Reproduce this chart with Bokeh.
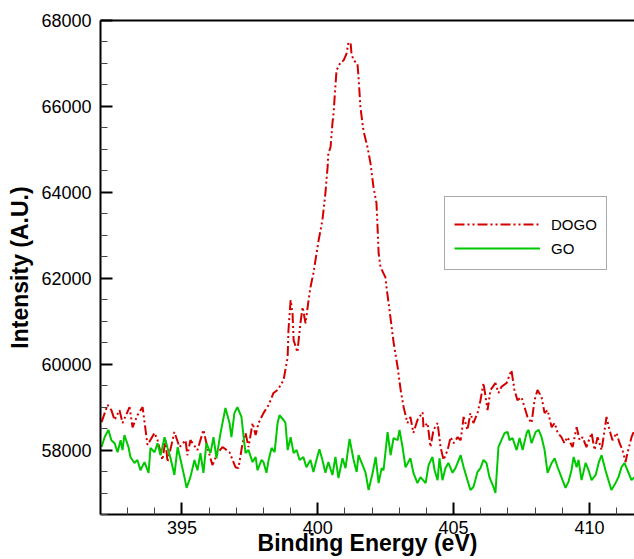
from bokeh.plotting import figure
from bokeh.models import (Range1d, FixedTicker, LinearAxis, Legend, LegendItem,
                          BasicTickFormatter)
from bokeh.embed import file_html
from bokeh.resources import INLINE

# ---- data ----
dogo_energy = [392.04, 392.26, 392.40, 392.52, 392.70, 392.81, 393.07, 393.18, 393.36, 393.55,
               393.73, 393.99, 394.10, 394.28, 394.39, 394.47, 394.72, 394.91, 395.13, 395.20,
               395.31, 395.57, 395.79, 395.94, 396.12, 396.31, 396.49, 396.75, 396.97, 397.08,
               397.23, 397.34, 397.45, 397.60, 397.71, 397.82, 398.00, 398.19, 398.37, 398.52,
               398.63, 398.74, 398.89, 398.92, 399.00, 399.07, 399.11, 399.25, 399.36, 399.44,
               399.55, 399.66, 399.73, 399.84, 400.03, 400.17, 400.28, 400.36, 400.39, 400.47,
               400.54, 400.58, 400.62, 400.69, 400.84, 400.95, 401.06, 401.13, 401.21, 401.24,
               401.32, 401.46, 401.50, 401.57, 401.68, 401.83, 401.94, 402.05, 402.16, 402.20,
               402.24, 402.31, 402.49, 402.53, 402.64, 402.79, 402.94, 403.05, 403.16, 403.30,
               403.41, 403.52, 403.67, 403.86, 403.89, 404.04, 404.15, 404.26, 404.41, 404.52,
               404.63, 404.78, 404.89, 405.00, 405.15, 405.26, 405.37, 405.51, 405.62, 405.73,
               405.88, 405.99, 406.10, 406.25, 406.36, 406.54, 406.65, 406.76, 406.95, 407.13,
               407.24, 407.35, 407.50, 407.61, 407.72, 407.87, 407.98, 408.09, 408.24, 408.35,
               408.46, 408.61, 408.72, 408.83, 408.97, 409.08, 409.19, 409.38, 409.53, 409.64,
               409.75, 409.89, 410.08, 410.19, 410.30, 410.45, 410.63, 410.74, 410.85, 411.00,
               411.11, 411.22, 411.33, 411.40, 411.55, 411.66]
dogo_intensity = [58650, 59050, 58930, 58700, 58930, 58630, 59000, 58530, 58810, 59000,
                  58120, 58400, 58230, 57770, 58230, 57720, 58420, 58070, 58230, 57880,
                  58230, 58000, 58470, 58050, 57650, 57930, 58070, 57950, 57600, 57580,
                  58160, 58400, 58070, 58630, 58350, 58630, 58860, 59050, 59330, 59400,
                  59510, 59630, 60160, 60790, 61490, 61190, 60560, 60280, 60950, 61330,
                  60950, 61490, 61790, 62120, 62880, 63350, 63980, 64580, 64910, 65050,
                  65610, 65840, 66210, 66840, 67030, 67070, 67230, 67490, 67470, 67230,
                  67070, 67000, 66680, 65980, 65440, 65050, 64680, 64120, 63750, 63190,
                  62580, 62260, 62020, 61790, 61260, 60510, 59930, 59400, 59000, 58630,
                  58770, 58400, 58700, 58880, 58530, 58630, 58070, 58470, 58630, 58070,
                  57770, 58000, 58300, 58160, 58300, 58230, 58770, 58470, 58860, 58630,
                  58860, 59160, 59560, 58930, 59400, 59560, 59330, 59470, 59560, 59860,
                  59400, 59160, 59230, 59000, 58770, 58630, 59160, 59400, 59230, 58860,
                  58930, 58530, 58630, 58400, 58300, 58160, 58300, 58070, 58530, 58230,
                  58300, 58070, 58400, 58000, 58300, 58000, 58770, 58470, 58230, 58400,
                  58160, 58000, 57720, 57930, 58300, 58470]

go_energy = [392.04, 392.15, 392.29, 392.40, 392.52, 392.63, 392.74, 392.81, 392.88, 393.03,
             393.10, 393.25, 393.36, 393.47, 393.62, 393.77, 393.84, 393.99, 394.10, 394.21,
             394.36, 394.47, 394.58, 394.72, 394.84, 394.95, 395.09, 395.17, 395.31, 395.46,
             395.57, 395.68, 395.79, 395.90, 396.05, 396.16, 396.27, 396.42, 396.60, 396.75,
             396.82, 396.93, 397.04, 397.19, 397.27, 397.34, 397.45, 397.60, 397.71, 397.78,
             397.93, 398.00, 398.11, 398.19, 398.30, 398.41, 398.52, 398.59, 398.74, 398.81,
             398.89, 399.00, 399.11, 399.22, 399.33, 399.47, 399.58, 399.73, 399.84, 399.95,
             400.06, 400.17, 400.28, 400.39, 400.54, 400.65, 400.76, 400.91, 401.02, 401.17,
             401.32, 401.43, 401.50, 401.65, 401.76, 401.87, 402.02, 402.13, 402.24, 402.35,
             402.42, 402.57, 402.68, 402.79, 402.94, 403.01, 403.12, 403.23, 403.41, 403.52,
             403.67, 403.78, 403.97, 404.08, 404.22, 404.30, 404.41, 404.48, 404.59, 404.70,
             404.81, 404.96, 405.07, 405.26, 405.37, 405.51, 405.62, 405.73, 405.88, 405.99,
             406.10, 406.21, 406.32, 406.47, 406.54, 406.62, 406.65, 406.76, 406.88, 406.99,
             407.06, 407.17, 407.32, 407.43, 407.54, 407.69, 407.76, 407.87, 408.02, 408.13,
             408.24, 408.35, 408.46, 408.61, 408.72, 408.83, 408.97, 409.12, 409.23, 409.34,
             409.42, 409.53, 409.60, 409.71, 409.86, 409.97, 410.08, 410.23, 410.34, 410.45,
             410.59, 410.70, 410.81, 410.96, 411.07, 411.18, 411.29, 411.40, 411.55, 411.66]
go_intensity = [58070, 58300, 58470, 58230, 58160, 57950, 58230, 58000, 58350, 58070,
                57840, 57700, 57770, 57530, 57720, 57470, 58050, 57950, 58160, 57880,
                58300, 58050, 57810, 57420, 58070, 57770, 57370, 57120, 57370, 57770,
                57530, 57930, 57470, 58160, 57930, 58300, 57810, 58400, 58980, 58630,
                58300, 58860, 59000, 58770, 58300, 57930, 58000, 57720, 57840, 57530,
                57770, 57720, 57470, 57770, 58050, 57950, 58630, 58810, 58700, 58630,
                58000, 58300, 57930, 58000, 57770, 57840, 57600, 57770, 57490, 57770,
                58020, 57770, 57470, 57720, 57420, 57840, 57350, 57810, 57580, 58260,
                57770, 57490, 57880, 57650, 57470, 57070, 57470, 57840, 57230, 57580,
                57530, 58420, 57880, 58280, 58230, 58470, 58070, 57600, 57810, 57470,
                57230, 57370, 57230, 57650, 57840, 57530, 57300, 57810, 57300, 57580,
                57700, 57470, 57580, 57880, 57600, 57300, 57070, 57140, 57490, 57580,
                57770, 57700, 57370, 57140, 57000, 57770, 58070, 58230, 58400, 58420,
                58230, 58280, 58000, 58280, 58000, 58400, 58470, 58160, 58420, 58470,
                58300, 58000, 57470, 57700, 57810, 57600, 57370, 57120, 57260, 57530,
                57840, 57600, 57770, 57300, 57700, 57530, 57300, 57420, 57700, 57880,
                57530, 57300, 57070, 57230, 57370, 57600, 57700, 57530, 57300, 57370]

x_ticks = [395, 400, 405, 410]
x_minor_ticks = [392, 393, 394, 396, 397, 398, 399, 401, 402, 403, 404, 406, 407, 408, 409, 411]
y_ticks = [58000, 60000, 62000, 64000, 66000, 68000]
y_minor_ticks = [56500, 57000, 57500, 58500, 59000, 59500, 60500, 61000, 61500, 62500,
                 63000, 63500, 64500, 65000, 65500, 66500, 67000, 67500]
x_start, x_end = 392.0, 411.66
y_start, y_end = 56500, 68000
x_title = "Binding Energy (eV)"
y_title = "Intensity (A.U.)"

FONT = "Liberation Sans"

p = figure(width=634, height=559, output_backend="svg", toolbar_location=None,
           x_range=Range1d(x_start, x_end), y_range=Range1d(y_start, y_end),
           min_border_left=100, min_border_right=0, min_border_top=20, min_border_bottom=45)
p.outline_line_color = None
p.xgrid.visible = False
p.ygrid.visible = False
p.background_fill_color = "white"
p.border_fill_color = "white"

r_dogo = p.line(dogo_energy, dogo_intensity, line_color="#d40000", line_width=2,
                line_dash="10 3 2 3 2 3")
r_go = p.line(go_energy, go_intensity, line_color="#00c800", line_width=2)

for ax, ticks, minors in ((p.xaxis[0], x_ticks, x_minor_ticks), (p.yaxis[0], y_ticks, y_minor_ticks)):
    ax.ticker = FixedTicker(ticks=ticks, minor_ticks=minors)
    ax.formatter = BasicTickFormatter(use_scientific=False)
    ax.axis_line_width = 2
    ax.axis_line_color = "black"
    ax.major_tick_in = 12
    ax.major_tick_out = 0
    ax.major_tick_line_width = 2
    ax.major_tick_line_color = "black"
    ax.minor_tick_in = 7
    ax.minor_tick_out = 0
    ax.minor_tick_line_width = 1
    ax.minor_tick_line_color = "#444444"
    ax.major_label_text_font = FONT
    ax.major_label_text_font_size = "18px"
    ax.major_label_text_color = "black"
    ax.axis_label_text_font = FONT
    ax.axis_label_text_font_style = "bold"
    ax.axis_label_text_font_size = "23px"
    ax.axis_label_text_color = "black"

p.xaxis[0].axis_label = x_title
p.xaxis[0].major_label_standoff = 6
p.xaxis[0].axis_label_standoff = -7
p.yaxis[0].axis_label = y_title
p.yaxis[0].major_label_standoff = 9
p.yaxis[0].axis_label_standoff = 5

top = LinearAxis(ticker=FixedTicker(ticks=[]), major_label_text_font_size="0px",
                 axis_line_width=2, axis_line_color="black",
                 major_tick_line_color=None, minor_tick_line_color=None,
                 major_label_standoff=0, major_tick_in=0, major_tick_out=0)
p.add_layout(top, "above")

legend = Legend(items=[LegendItem(label="DOGO", renderers=[r_dogo]),
                       LegendItem(label="GO", renderers=[r_go])],
                location=(344, 244), orientation="vertical",
                title=" ", title_text_font_size="6px", title_standoff=0,
                glyph_width=86, glyph_height=20, label_height=24, label_standoff=11,
                spacing=0, padding=9, margin=0,
                label_text_font=FONT, label_text_font_size="15px", label_text_color="black",
                border_line_color="#555555", border_line_width=1,
                background_fill_color="white", background_fill_alpha=1.0)
p.add_layout(legend, "center")

open("out.html", "w").write(file_html(p, INLINE))
